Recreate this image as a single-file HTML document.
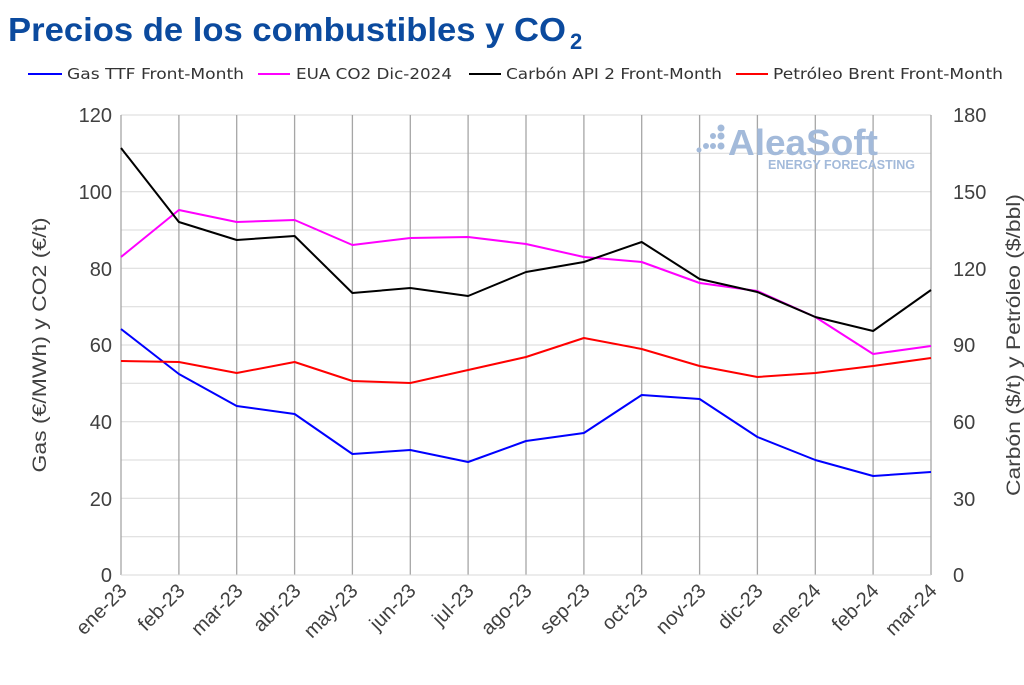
<!DOCTYPE html>
<html><head><meta charset="utf-8"><style>
body{margin:0;background:#fff;width:1024px;height:680px;overflow:hidden;font-family:"Liberation Sans",sans-serif}
</style></head><body>
<svg width="1024" height="680" xmlns="http://www.w3.org/2000/svg" font-family="Liberation Sans, sans-serif">
<text x="8" y="41" font-size="33" font-weight="bold" fill="#0b4a9e" textLength="558" lengthAdjust="spacingAndGlyphs">Precios de los combustibles y CO</text>
<text x="570" y="49" font-size="22" font-weight="bold" fill="#0b4a9e">2</text>
<g font-size="15" fill="#333" font-family="DejaVu Sans, sans-serif">
<line x1="28" y1="74" x2="62" y2="74" stroke="#0000ff" stroke-width="2"/><text x="67" y="79" textLength="177" lengthAdjust="spacingAndGlyphs">Gas TTF Front-Month</text>
<line x1="258" y1="74" x2="290" y2="74" stroke="#ff00ff" stroke-width="2"/><text x="296" y="79" textLength="156" lengthAdjust="spacingAndGlyphs">EUA CO2 Dic-2024</text>
<line x1="469" y1="74" x2="501" y2="74" stroke="#000" stroke-width="2"/><text x="506" y="79" textLength="216" lengthAdjust="spacingAndGlyphs">Carbón API 2 Front-Month</text>
<line x1="736" y1="74" x2="768" y2="74" stroke="#ff0000" stroke-width="2"/><text x="773" y="79" textLength="230" lengthAdjust="spacingAndGlyphs">Petróleo Brent Front-Month</text>
</g>
<g stroke="#d9d9d9" stroke-width="1">
<line x1="121" y1="115" x2="931" y2="115"/><line x1="121" y1="153.3" x2="931" y2="153.3"/><line x1="121" y1="191.7" x2="931" y2="191.7"/><line x1="121" y1="230" x2="931" y2="230"/><line x1="121" y1="268.3" x2="931" y2="268.3"/><line x1="121" y1="306.7" x2="931" y2="306.7"/><line x1="121" y1="345" x2="931" y2="345"/><line x1="121" y1="383.3" x2="931" y2="383.3"/><line x1="121" y1="421.7" x2="931" y2="421.7"/><line x1="121" y1="460" x2="931" y2="460"/><line x1="121" y1="498.3" x2="931" y2="498.3"/><line x1="121" y1="536.7" x2="931" y2="536.7"/>
</g>
<g stroke="#a6a6a6" stroke-width="1.3">
<line x1="121" y1="115" x2="121" y2="575"/><line x1="178.9" y1="115" x2="178.9" y2="575"/><line x1="236.7" y1="115" x2="236.7" y2="575"/><line x1="294.6" y1="115" x2="294.6" y2="575"/><line x1="352.4" y1="115" x2="352.4" y2="575"/><line x1="410.3" y1="115" x2="410.3" y2="575"/><line x1="468.1" y1="115" x2="468.1" y2="575"/><line x1="526" y1="115" x2="526" y2="575"/><line x1="583.9" y1="115" x2="583.9" y2="575"/><line x1="641.7" y1="115" x2="641.7" y2="575"/><line x1="699.6" y1="115" x2="699.6" y2="575"/><line x1="757.4" y1="115" x2="757.4" y2="575"/><line x1="815.3" y1="115" x2="815.3" y2="575"/><line x1="873.1" y1="115" x2="873.1" y2="575"/><line x1="931" y1="115" x2="931" y2="575"/>
</g>
<line x1="121" y1="575" x2="931" y2="575" stroke="#d9d9d9"/>
<g fill="#a3bada">
<text x="728" y="155" font-size="36" font-weight="bold" textLength="150" lengthAdjust="spacingAndGlyphs">AleaSoft</text>
<text x="768" y="169" font-size="12.5" font-weight="bold" textLength="147" lengthAdjust="spacingAndGlyphs">ENERGY FORECASTING</text>
<circle cx="721" cy="128" r="3.5"/><circle cx="713" cy="136" r="3"/><circle cx="721" cy="136" r="3.5"/><circle cx="706" cy="146" r="3"/><circle cx="713" cy="146" r="3"/><circle cx="721" cy="146" r="3.5"/><circle cx="699" cy="150" r="2.5"/>
</g>
<g fill="none" stroke-width="2" stroke-linejoin="round">
<polyline stroke="#0000ff" points="121,329 178.9,374 236.7,406 294.6,414 352.4,454 410.3,450 468.1,462 526,441 583.9,433 641.7,395 699.6,399 757.4,437 815.3,460 873.1,476 931,472"/>
<polyline stroke="#ff00ff" points="121,257 178.9,210 236.7,222 294.6,220 352.4,245 410.3,238 468.1,237 526,244 583.9,257 641.7,262 699.6,283 757.4,291 815.3,317 873.1,354 931,346"/>
<polyline stroke="#000" points="121,148 178.9,222 236.7,240 294.6,236 352.4,293 410.3,288 468.1,296 526,272 583.9,262 641.7,242 699.6,279 757.4,292 815.3,317 873.1,331 931,290"/>
<polyline stroke="#ff0000" points="121,361 178.9,362 236.7,373 294.6,362 352.4,381 410.3,383 468.1,370 526,357 583.9,338 641.7,349 699.6,366 757.4,377 815.3,373 873.1,366 931,358"/>
</g>
<g font-size="20" fill="#404040" text-anchor="end">
<text x="112" y="122">120</text><text x="112" y="199">100</text><text x="112" y="276">80</text><text x="112" y="352">60</text><text x="112" y="429">40</text><text x="112" y="506">20</text><text x="112" y="582">0</text>
</g>
<g font-size="20" fill="#404040" text-anchor="start">
<text x="953" y="122">180</text><text x="953" y="199">150</text><text x="953" y="276">120</text><text x="953" y="352">90</text><text x="953" y="429">60</text><text x="953" y="506">30</text><text x="953" y="582">0</text>
</g>
<text transform="translate(46,345) rotate(-90)" font-size="19" fill="#404040" text-anchor="middle" textLength="255" lengthAdjust="spacingAndGlyphs">Gas (€/MWh) y CO2 (€/t)</text>
<text transform="translate(1020,345) rotate(-90)" font-size="19" fill="#404040" text-anchor="middle" textLength="302" lengthAdjust="spacingAndGlyphs">Carbón ($/t) y Petróleo ($/bbl)</text>
<g font-size="20" fill="#404040" text-anchor="end">
<text transform="translate(128,592) rotate(-45)">ene-23</text>
<text transform="translate(186,592) rotate(-45)">feb-23</text>
<text transform="translate(244,592) rotate(-45)">mar-23</text>
<text transform="translate(302,592) rotate(-45)">abr-23</text>
<text transform="translate(359,592) rotate(-45)">may-23</text>
<text transform="translate(417,592) rotate(-45)">jun-23</text>
<text transform="translate(475,592) rotate(-45)">jul-23</text>
<text transform="translate(533,592) rotate(-45)">ago-23</text>
<text transform="translate(591,592) rotate(-45)">sep-23</text>
<text transform="translate(649,592) rotate(-45)">oct-23</text>
<text transform="translate(707,592) rotate(-45)">nov-23</text>
<text transform="translate(764,592) rotate(-45)">dic-23</text>
<text transform="translate(822,592) rotate(-45)">ene-24</text>
<text transform="translate(880,592) rotate(-45)">feb-24</text>
<text transform="translate(938,592) rotate(-45)">mar-24</text>
</g>
</svg>
</body></html>
